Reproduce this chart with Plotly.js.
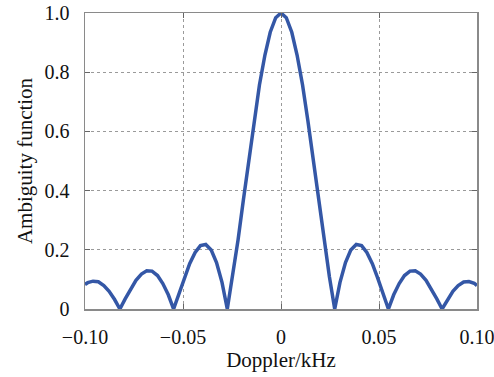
<!DOCTYPE html>
<html>
<head>
<meta charset="utf-8">
<script src="https://cdn.plot.ly/plotly-3.0.1.min.js"></script>
<style>
  html, body { margin: 0; padding: 0; background: #fff; overflow: hidden; }
  #chart { width: 494px; height: 377px; }
</style>
</head>
<body>
<div id="chart"></div>
<script>
// Doppler offset (kHz) and normalised ambiguity function magnitude
const doppler = [
  -0.1000, -0.0986, -0.0959, -0.0932, -0.0904, -0.0877, -0.0849, -0.0822,
  -0.0795, -0.0767, -0.0740, -0.0712, -0.0685, -0.0658, -0.0630, -0.0603, -0.0575, -0.0548,
  -0.0521, -0.0493, -0.0466, -0.0438, -0.0411, -0.0384, -0.0356, -0.0329, -0.0301, -0.0274,
  -0.0247, -0.0219, -0.0192, -0.0164, -0.0137, -0.0110, -0.0082, -0.0055, -0.0027, 0.0000,
  0.0027, 0.0055, 0.0082, 0.0110, 0.0137, 0.0164, 0.0192, 0.0219, 0.0247, 0.0274,
  0.0301, 0.0329, 0.0356, 0.0384, 0.0411, 0.0438, 0.0466, 0.0493, 0.0521, 0.0548,
  0.0575, 0.0603, 0.0630, 0.0658, 0.0685, 0.0712, 0.0740, 0.0767, 0.0795, 0.0822,
  0.0849, 0.0877, 0.0904, 0.0932, 0.0959, 0.0986, 0.1000
];
const ambiguity = [
  0.083, 0.089, 0.094, 0.092, 0.079, 0.060, 0.032, 0.000,
  0.034, 0.068, 0.097, 0.118, 0.129, 0.128, 0.113, 0.086, 0.048, 0.000,
  0.053, 0.105, 0.153, 0.191, 0.214, 0.218, 0.199, 0.157, 0.090, 0.000,
  0.109, 0.234, 0.368, 0.505, 0.637, 0.757, 0.858, 0.935, 0.984, 1.000,
  0.984, 0.935, 0.858, 0.757, 0.637, 0.505, 0.368, 0.234, 0.109, 0.000,
  0.090, 0.157, 0.199, 0.218, 0.214, 0.191, 0.153, 0.105, 0.053, 0.000,
  0.048, 0.086, 0.113, 0.128, 0.129, 0.118, 0.097, 0.068, 0.034, 0.000,
  0.032, 0.060, 0.079, 0.091, 0.093, 0.087, 0.079
];

// Axis tick positions and their printed labels
const xTickVals = [-0.10, -0.05, 0, 0.05, 0.10];
const xTickText = ['\u22120.10', '\u22120.05', '0', '0.05', '0.10'];
const yTickVals = [0, 0.2, 0.4, 0.6, 0.8, 1.0];
const yTickText = ['0', '0.2', '0.4', '0.6', '0.8', '1.0'];

const serif = 'Liberation Serif, Times New Roman, serif';
const frameColor = '#8a8a8a';
const gridColor = '#9a9a9a';

const trace = {
  x: doppler,
  y: ambiguity,
  type: 'scatter',
  mode: 'lines',
  line: { color: '#3457a6', width: 3.5 },
  hoverinfo: 'x+y'
};

const axisCommon = {
  showline: true,
  linecolor: frameColor,
  linewidth: 1.5,
  mirror: 'ticks',
  ticks: 'inside',
  ticklen: 5,
  tickcolor: '#666',
  tickwidth: 1,
  showgrid: true,
  gridcolor: gridColor,
  griddash: 'dot',
  gridwidth: 1,
  zeroline: false,
  tickfont: { family: serif, size: 20, color: '#111' },
  tickmode: 'array',
  ticklabeloverflow: 'allow'
};

const layout = {
  width: 494,
  height: 377,
  margin: { l: 85, r: 17, t: 13, b: 68 },
  paper_bgcolor: '#fff',
  plot_bgcolor: '#fff',
  showlegend: false,
  xaxis: Object.assign({}, axisCommon, {
    range: [-0.1, 0.1],
    tickvals: xTickVals,
    ticktext: xTickText,
    ticklabelstandoff: 9,
    title: { text: 'Doppler/kHz', font: { family: serif, size: 21, color: '#111' }, standoff: 6 }
  }),
  yaxis: Object.assign({}, axisCommon, {
    range: [0, 1],
    tickvals: yTickVals,
    ticktext: yTickText,
    ticklabelstandoff: 10,
    title: { text: 'Ambiguity function', font: { family: serif, size: 21, color: '#111' }, standoff: 6 }
  })
};

Plotly.newPlot('chart', [trace], layout, { displayModeBar: false, staticPlot: true });
</script>
</body>
</html>
